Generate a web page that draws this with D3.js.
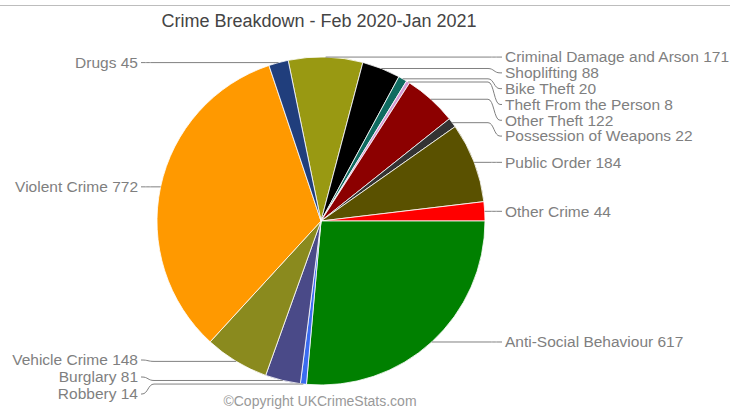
<!DOCTYPE html>
<html>
<head>
<meta charset="utf-8">
<script src="https://cdn.jsdelivr.net/npm/d3@7"></script>
<style>
  body { margin: 0; background: #fff; }
  svg { display: block; font-family: "Liberation Sans", Arial, sans-serif; }
</style>
</head>
<body>
<div id="chart"></div>
<script>

// crime categories, clockwise from the top of the pie
var categories = ['Criminal Damage and Arson', 'Shoplifting', 'Bike Theft', 'Theft From the Person',
	'Other Theft', 'Possession of Weapons', 'Public Order', 'Other Crime', 'Anti-Social Behaviour',
	'Robbery', 'Burglary', 'Vehicle Crime', 'Violent Crime', 'Drugs'];
var counts = [171, 88, 20, 8, 122, 22, 184, 44, 617, 14, 81, 148, 772, 45];
var colors = ['#999912', '#000000', '#0f6b60', '#d49ad4', '#8c0000', '#333333', '#5a5100',
	'#ff0000', '#008000', '#3a6cf0', '#4a4a88', '#8a8a1e', '#ff9900', '#203e7c'];

var title = 'Crime Breakdown - Feb 2020-Jan 2021';
var credit = '\u00A9Copyright UKCrimeStats.com';

var width = 730, height = 415;
var cx = 321, cy = 221, r = 164;
var gap = 15.8;

var svg = d3.select('#chart').append('svg')
	.attr('width', width)
	.attr('height', height);

svg.append('line')
	.attr('x1', 0).attr('x2', width)
	.attr('y1', 5.5).attr('y2', 5.5)
	.style('stroke', '#bdbdbd');

svg.append('text')
	.attr('x', 319).attr('y', 27)
	.attr('text-anchor', 'middle')
	.style('font-size', '18px')
	.style('fill', '#444')
	.text(title);

// Anti-Social Behaviour starts at 3 o'clock
var total = d3.sum(counts);
var before = d3.sum(counts.slice(0, categories.indexOf('Anti-Social Behaviour')));
var start = Math.PI / 2 - 2 * Math.PI * before / total;

var pie = d3.pie().sort(null).startAngle(start).endAngle(start + 2 * Math.PI);
var arc = d3.arc().innerRadius(0).outerRadius(r);
var slices = pie(counts);

var g = svg.append('g').attr('transform', 'translate(' + cx + ',' + cy + ')');

g.selectAll('path')
	.data(slices)
	.enter().append('path')
	.attr('d', arc)
	.style('fill', function(d, i) { return colors[i]; })
	.style('stroke', '#fff')
	.style('stroke-width', 0.8);

// labels
var labels = slices.map(function(d, i) {
	var a = (d.startAngle + d.endAngle) / 2;
	return {
		name: categories[i] + ' ' + counts[i],
		ax: cx + r * Math.sin(a),
		ay: cy - r * Math.cos(a),
		right: Math.sin(a) > 0
	};
});

function layout(list, maxY) {
	list.sort(function(a, b) { return a.ay - b.ay; });
	var prev = -Infinity;
	list.forEach(function(l) {
		l.ty = Math.min(Math.max(l.ay, prev + gap), maxY);
		prev = l.ty;
	});
	// squeeze back up from the bottom, only where crowded
	for (var i = list.length - 2; i >= 0; i--) {
		var lim = list[i + 1].ty - 17;
		if (list[i].ty <= lim)
			break;
		list[i].ty = lim;
	}
}

var maxY = cy + r + 9;
layout(labels.filter(function(l) { return l.right; }), maxY);
layout(labels.filter(function(l) { return !l.right; }), maxY);

var rightX = 505, leftX = 138;

svg.selectAll('path.leader')
	.data(labels)
	.enter().append('path')
	.attr('class', 'leader')
	.attr('d', function(l) {
		if (l.right)
			return 'M' + l.ax + ',' + l.ay + 'L488,' + l.ay + 'C494,' + l.ay + ' 494,' + l.ty + ' 500,' + l.ty + 'L502,' + l.ty;
		return 'M' + l.ax + ',' + l.ay + 'L154,' + l.ay + 'C148,' + l.ay + ' 148,' + l.ty + ' 142,' + l.ty + 'L141,' + l.ty;
	})
	.style('fill', 'none')
	.style('stroke', '#808080')
	.style('stroke-width', 1);

svg.selectAll('text.label')
	.data(labels)
	.enter().append('text')
	.attr('class', 'label')
	.attr('x', function(l) { return l.right ? rightX : leftX; })
	.attr('y', function(l) { return l.ty; })
	.attr('dy', '0.35em')
	.attr('text-anchor', function(l) { return l.right ? 'start' : 'end'; })
	.style('font-size', '15.5px')
	.style('fill', '#7f7f7f')
	.text(function(l) { return l.name; });

svg.append('text')
	.attr('x', 320).attr('y', 406)
	.attr('text-anchor', 'middle')
	.style('font-size', '14px')
	.style('fill', '#999')
	.text(credit);

</script>
</body>
</html>
